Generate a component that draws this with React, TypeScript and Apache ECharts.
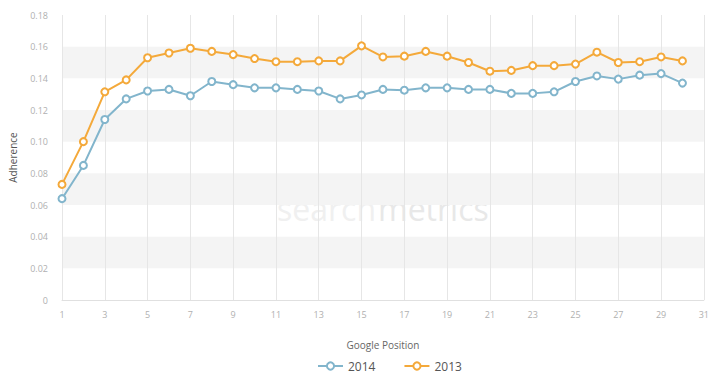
import React, { useEffect, useRef } from "react";
import * as echarts from "echarts";

const positions: string[] = Array.from({ length: 31 }, (_, i) => String(i + 1));

const series2014: number[] = [
  0.064, 0.085, 0.114, 0.127, 0.132, 0.133, 0.129, 0.138, 0.136, 0.134,
  0.134, 0.133, 0.132, 0.127, 0.1295, 0.133, 0.1325, 0.134, 0.134, 0.133,
  0.133, 0.1305, 0.1305, 0.1315, 0.138, 0.1415, 0.1395, 0.142, 0.143, 0.137,
];

const series2013: number[] = [
  0.073, 0.1, 0.1315, 0.139, 0.153, 0.156, 0.159, 0.157, 0.155, 0.1525,
  0.1505, 0.1505, 0.151, 0.151, 0.1605, 0.1535, 0.154, 0.157, 0.154, 0.15,
  0.1445, 0.145, 0.148, 0.148, 0.149, 0.1565, 0.15, 0.1505, 0.1535, 0.151,
];

const seriesNames: string[] = ["2014", "2013"];
const colors: string[] = ["#82b5cc", "#f4a93a"];

export default function App() {
  const ref = useRef<HTMLDivElement>(null);
  useEffect(() => {
    if (!ref.current) return;
    const chart = echarts.init(ref.current, undefined, { renderer: "svg" });
    chart.setOption({
      animation: false,
      backgroundColor: "#ffffff",
      textStyle: { fontFamily: "Open Sans, sans-serif" },
      grid: { left: 62, right: 5, top: 15, height: 285 },
      legend: {
        show: true,
        bottom: 3,
        left: 312,
        itemWidth: 25,
        itemHeight: 9,
        itemGap: 28,
        textStyle: { color: "#555", fontSize: 12 },
        data: seriesNames,
      },
      graphic: [
        {
          type: "text",
          left: 277,
          top: 192,
          z: 0,
          silent: true,
          style: {
            text: "search",
            fontSize: 32,
            fontFamily: "Open Sans, sans-serif",
            fill: "#f0f0f0",
          },
        },
        {
          type: "text",
          left: 378,
          top: 192,
          z: 0,
          silent: true,
          style: {
            text: "metrics",
            fontSize: 32,
            fontFamily: "Open Sans, sans-serif",
            fill: "#e8e8e8",
          },
        },
      ],
      xAxis: {
        type: "category",
        data: positions,
        boundaryGap: false,
        name: "Google Position",
        nameLocation: "middle",
        nameGap: 40,
        nameTextStyle: { color: "#666", fontSize: 10 },
        axisLine: { lineStyle: { color: "#e0e0e0" } },
        axisTick: { show: false },
        axisLabel: { interval: 1, color: "#b0b0b0", fontSize: 9, margin: 10 },
        splitLine: { show: true, interval: 1, lineStyle: { color: "#e6e6e6" } },
      },
      yAxis: {
        type: "value",
        min: 0,
        max: 0.18,
        interval: 0.02,
        name: "Adherence",
        nameLocation: "middle",
        nameGap: 44,
        nameTextStyle: { color: "#555", fontSize: 10 },
        axisLine: { show: false },
        axisTick: { show: false },
        axisLabel: {
          color: "#b0b0b0",
          fontSize: 9,
          margin: 14,
          formatter: (v: number) => (v === 0 ? "0" : v.toFixed(2)),
        },
        splitLine: { show: false },
        splitArea: {
          show: true,
          areaStyle: { color: ["rgba(255,255,255,0)", "#f4f4f4"] },
        },
      },
      series: [
        {
          name: seriesNames[0],
          type: "line",
          data: series2014,
          symbol: "emptyCircle",
          symbolSize: 7,
          z: 3,
          itemStyle: { color: colors[0], borderWidth: 2 },
          lineStyle: { color: colors[0], width: 2 },
        },
        {
          name: seriesNames[1],
          type: "line",
          data: series2013,
          symbol: "emptyCircle",
          symbolSize: 7,
          z: 3,
          itemStyle: { color: colors[1], borderWidth: 2 },
          lineStyle: { color: colors[1], width: 2 },
        },
      ],
    });
    return () => chart.dispose();
  }, []);
  return (
    <div
      ref={ref}
      style={{ position: "fixed", left: 0, top: 0, width: 712, height: 380 }}
    />
  );
}
